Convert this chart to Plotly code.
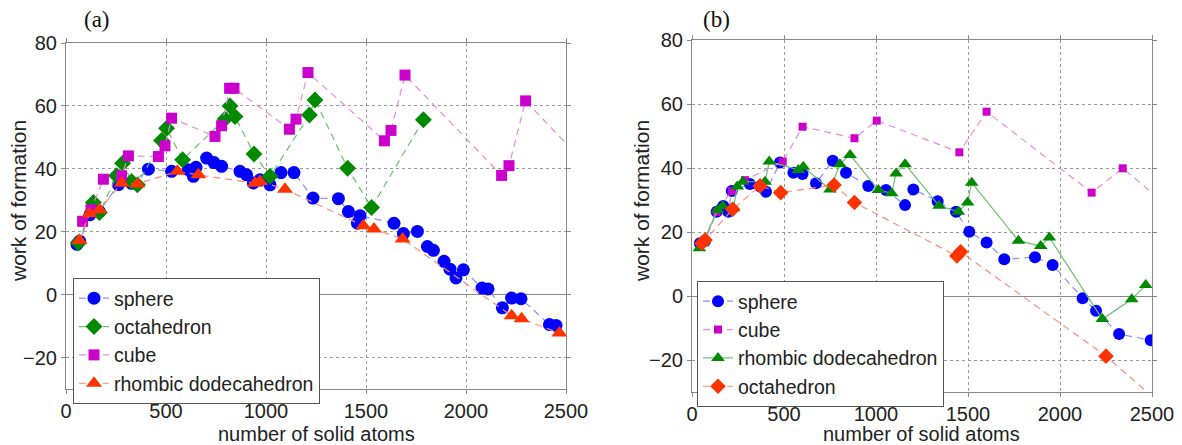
import plotly.graph_objects as go

# ---- panel (a) ----
a_sphere_x = [55, 68, 120, 167, 262, 328, 412, 528, 612, 637, 650, 703, 740, 778, 870, 903, 937, 970, 1020,
              1075, 1140, 1235, 1362, 1412, 1457, 1470, 1640, 1687, 1757, 1807, 1837, 1890, 1920, 1950, 1987,
              2080, 2110, 2182, 2228, 2275, 2417, 2450]
a_sphere_y = [16, 17, 25.4, 26.4, 35, 35.4, 39.9, 39.2, 39.7, 37.6, 40.5, 43.4, 42, 40.8, 39.2, 38.1, 35.5, 36.5, 34.9,
              38.8, 38.8, 30.7, 30.5, 26.4, 22.7, 25.1, 22.7, 19.4, 20.1, 15.3, 14.1, 10.6, 8.1, 5.3, 7.9,
              2.1, 1.8, -4.2, -1.1, -1.3, -9.5, -9.8]

a_octa_x = [62, 137, 167, 253, 283, 328, 357, 478, 503, 583, 795, 820, 845, 940, 1020, 1217, 1245, 1408, 1528, 1787]
a_octa_y = [16.5, 29.3, 26.1, 37.8, 41.8, 36, 34.9, 49, 52.9, 42.9, 55.8, 60, 56.6, 44.7, 37.6, 57.1, 61.9, 40.2, 27.7, 55.6]

a_cube_x = [83, 125, 187, 278, 312, 462, 495, 528, 745, 778, 818, 840, 1117, 1150, 1210, 1592, 1625, 1695,
            2178, 2215, 2298, 2600]
a_cube_y = [23.3, 27, 36.7, 37.8, 44.1, 43.9, 47.3, 56.1, 50.3, 53.7, 65.6, 65.6, 52.6, 55.8, 70.6, 48.9, 52.2, 69.8,
            37.9, 41, 61.6, 41.4]

a_rhomb_x = [67, 117, 167, 278, 357, 557, 662, 945, 970, 1095, 1487, 1540, 1683, 2228, 2278, 2467]
a_rhomb_y = [17.2, 25.7, 27, 35.4, 35.2, 39.2, 38.1, 35.4, 36, 33.5, 21.9, 20.9, 17.7, -6.7, -7.7, -12.2]

# ---- panel (b) ----
b_sphere_x = [43, 71, 134, 170, 197, 216, 315, 370, 402, 478, 551, 601, 674, 765, 837, 958, 1054, 1158, 1203,
              1335, 1435, 1507, 1601, 1697, 1864, 1960, 2123, 2196, 2321, 2493]
b_sphere_y = [16.5, 17.3, 26.3, 28.1, 26.3, 32.8, 35, 34.2, 32.6, 41.7, 38.5, 38.1, 35.2, 42.3, 38.5, 34.4, 33.1, 28.4, 33.3,
              29.6, 26.3, 20.1, 16.7, 11.5, 12.1, 9.7, -0.7, -4.6, -11.9, -13.8]

b_cube_x = [60, 134, 216, 288, 493, 601, 883, 1004, 1453, 1601, 2172, 2341, 2600]
b_cube_y = [17, 26.3, 32.8, 36.2, 42, 52.9, 49.3, 54.8, 44.9, 57.6, 32.3, 39.9, 27.5]

b_rhomb_x = [40, 60, 138, 167, 225, 246, 276, 397, 420, 578, 605, 750, 804, 859, 1013, 1085, 1109, 1158,
             1343, 1447, 1498, 1520, 1774, 1895, 1942, 2230, 2390, 2466]
b_rhomb_y = [14.9, 16.5, 26.9, 28.1, 27.4, 34.2, 35.7, 35.7, 42, 39.4, 40.4, 33.3, 41.2, 44.1, 33.1, 32.1, 38.3, 41.2,
             28.2, 26.3, 29.2, 35.4, 17.3, 15.6, 18.3, -7.2, -1, 3.4]

b_octa_x = [53, 71, 221, 370, 482, 772, 883, 1440, 1460, 2250, 2600]
b_octa_y = [16.5, 17.5, 27.1, 34.4, 32.3, 34.7, 29.2, 12.5, 13.8, -18.8, -36.3]

x_ticks = [0, 500, 1000, 1500, 2000, 2500]
y_ticks = [-20, 0, 20, 40, 60, 80]

FONT = "Liberation Sans, Arial, sans-serif"
DASH = "7px,5px"

fig = go.Figure()


def add(x, y, name, color, lcolor, symbol, size, xa, ya, legend, dash=DASH):
    fig.add_trace(go.Scatter(
        x=x, y=y, name=name, mode="lines+markers",
        line=dict(color=lcolor, width=1.2, dash=dash),
        marker=dict(color=color, symbol=symbol, size=size, line=dict(width=0)),
        xaxis=xa, yaxis=ya, legend=legend,
    ))


add(a_sphere_x, a_sphere_y, "sphere", "#0000ff", "#8c8cff", "circle", 13, "x", "y", "legend")
add(a_octa_x, a_octa_y, "octahedron", "#008a00", "#6cbf6c", "diamond", 13, "x", "y", "legend")
add(a_cube_x, a_cube_y, "cube", "#cc00cc", "#e58ae5", "square", 11, "x", "y", "legend")
add(a_rhomb_x, a_rhomb_y, "rhombic dodecahedron", "#ff3300", "#ff8a75", "triangle-up", 14, "x", "y", "legend")

add(b_sphere_x, b_sphere_y, "sphere", "#0000ff", "#8c8cff", "circle", 12, "x2", "y2", "legend2")
add(b_cube_x, b_cube_y, "cube", "#cc00cc", "#e58ae5", "square", 8, "x2", "y2", "legend2")
add(b_rhomb_x, b_rhomb_y, "rhombic dodecahedron", "#008a00", "#6cbf6c", "triangle-up", 12, "x2", "y2", "legend2",
    dash="solid")
add(b_octa_x, b_octa_y, "octahedron", "#ff3300", "#ff8a75", "diamond", 12, "x2", "y2", "legend2")

W, H = 1182, 445
OFF = 8  # the page body has an 8px margin, so screen px -> figure px


def px(v):
    return (v - OFF) / W


def py(v):
    return 1 - (v - OFF) / H


def ax_x(l, r, anchor):
    return dict(domain=[px(l), px(r)], range=[0, 2500], tickvals=x_ticks, anchor=anchor, automargin=False,
                showgrid=True, gridcolor="#9a9a9a", griddash="dot", gridwidth=1,
                showline=True, linecolor="#888", linewidth=1, mirror="ticks",
                ticks="outside", ticklen=4, tickcolor="#888", zeroline=False,
                tickfont=dict(size=20, color="#222", family=FONT))


def ax_y(top, bot, anchor):
    return dict(domain=[py(bot), py(top)], range=[-30, 80], tickvals=y_ticks, anchor=anchor,
                automargin=False,
                showgrid=True, gridcolor="#9a9a9a", griddash="dot", gridwidth=1,
                showline=True, linecolor="#888", linewidth=1, mirror="ticks",
                ticks="outside", ticklen=4, tickcolor="#888",
                zeroline=True, zerolinecolor="#888", zerolinewidth=1,
                tickfont=dict(size=20, color="#222", family=FONT))


leg = dict(bgcolor="white", bordercolor="#555", borderwidth=1, xanchor="left", yanchor="top",
           font=dict(size=19.5, color="#222", family=FONT), tracegroupgap=0, itemwidth=30)

fig.update_layout(
    width=W, height=H,
    margin=dict(l=0, r=0, t=0, b=0, autoexpand=False),
    paper_bgcolor="white", plot_bgcolor="white",
    xaxis=ax_x(66, 566, "y"), yaxis=ax_y(43, 389, "x"),
    xaxis2=ax_x(692, 1152, "y2"), yaxis2=ax_y(40, 392, "x2"),
    legend=dict(leg, x=px(73), y=py(278)),
    legend2=dict(leg, x=px(697), y=py(281)),
    font=dict(family=FONT, color="#222"),
)

title_font = dict(size=20, color="#222", family=FONT)
for cx in [316, 922]:
    fig.add_annotation(text="number of solid atoms", x=px(cx), y=py(434), xref="paper", yref="paper",
                       showarrow=False, font=title_font, xanchor="center", yanchor="middle", borderpad=0)
for cx, cy in [(18, 201), (641, 201)]:
    fig.add_annotation(text="work of formation", x=px(cx), y=py(cy), xref="paper", yref="paper",
                       showarrow=False, font=dict(title_font, size=21), textangle=-90,
                       xanchor="center", yanchor="middle")
for txt, cx in [("(a)", 97), ("(b)", 716)]:
    fig.add_annotation(text=txt, x=px(cx), y=py(19), xref="paper", yref="paper", showarrow=False,
                       font=dict(size=23, color="#111", family="Liberation Serif, Times New Roman, serif"),
                       xanchor="center", yanchor="middle", borderpad=0)

fig.write_html("out.html")
